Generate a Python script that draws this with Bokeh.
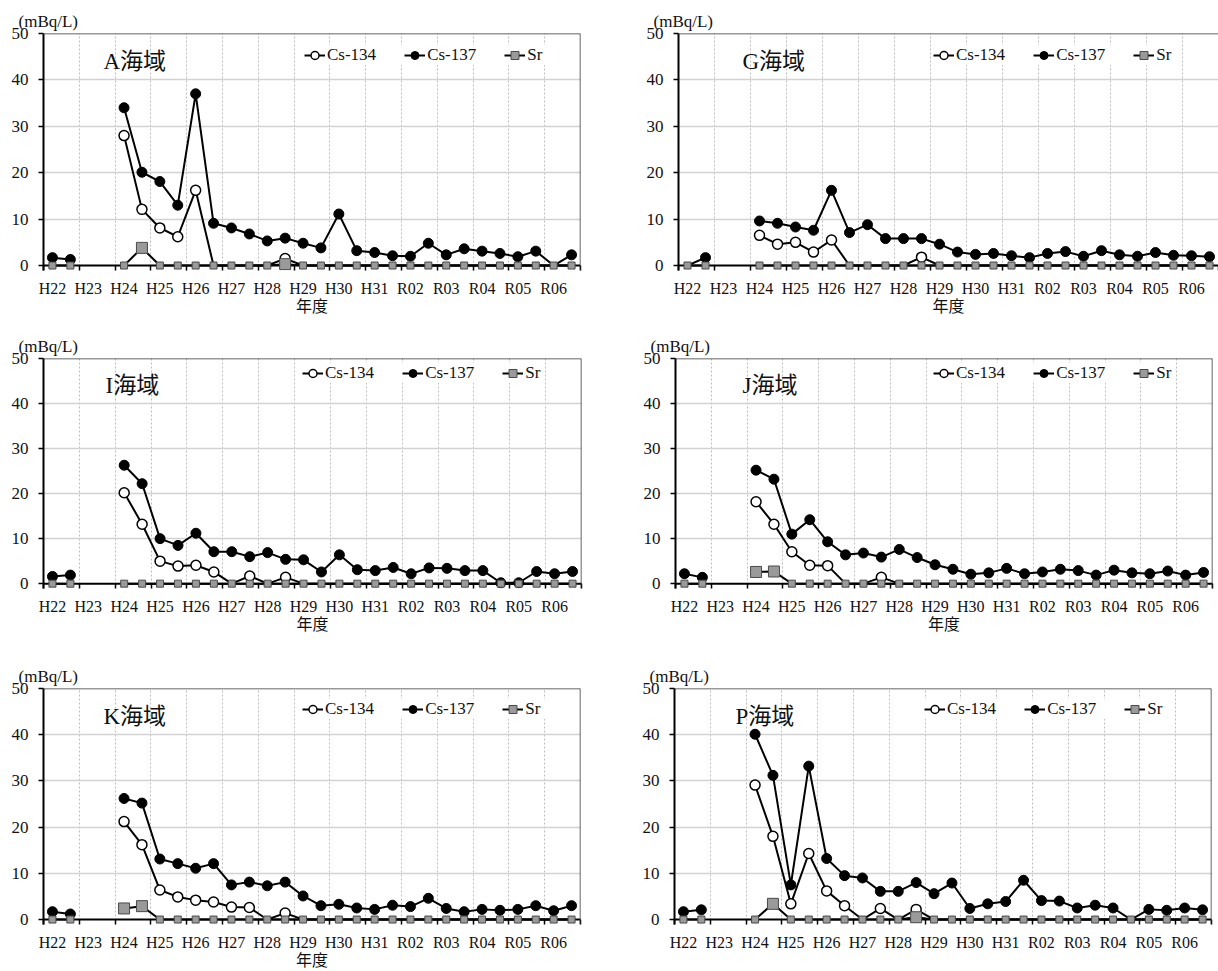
import numpy as np
from bokeh.plotting import figure
from bokeh.models import Range1d, FixedTicker, Label, Legend, LegendItem, Span
from bokeh.layouts import column, row
from bokeh.embed import file_html
from bokeh.resources import INLINE

# ---------------- data ----------------
# fiscal years; two samplings per year -> 30 slots
years = ["H22", "H23", "H24", "H25", "H26", "H27", "H28", "H29",
         "H30", "H31", "R02", "R03", "R04", "R05", "R06"]
N = None

a_cs134 = [N, N, N, N, 28.0, 12.1, 8.1, 6.2, 16.2, 0, 0, 0, 0, 1.5, 0, 0, 0, 0, 0, 0, 0, 0, 0, 0, 0, 0, 0, 0, 0, 0]
a_cs137 = [1.7, 1.3, N, N, 34.0, 20.1, 18.1, 13.0, 37.0, 9.1, 8.1, 6.8, 5.3, 5.9, 4.8, 3.8, 11.1, 3.2, 2.8, 2.1,
           2.0, 4.8, 2.3, 3.6, 3.1, 2.6, 1.9, 3.1, 0, 2.3]
a_sr = [0, 0, N, N, 0, 3.8, 0, 0, 0, 0, 0, 0, 0, 0.3, 0, 0, 0, 0, 0, 0, 0, 0, 0, 0, 0, 0, 0, 0, 0, 0]

g_cs134 = [N, N, N, N, 6.5, 4.6, 5.0, 2.9, 5.5, 0, 0, 0, 0, 1.8, 0, 0, 0, 0, 0, 0, 0, 0, 0, 0, 0, 0, 0, 0, 0, 0]
g_cs137 = [0, 1.7, N, N, 9.6, 9.1, 8.3, 7.6, 16.2, 7.1, 8.8, 5.8, 5.8, 5.8, 4.6, 2.9, 2.4, 2.6, 2.1, 1.7,
           2.6, 3.0, 2.0, 3.2, 2.3, 2.0, 2.8, 2.2, 2.1, 1.9]
g_sr = [0, 0, N, N, 0, 0, 0, 0, 0, 0, 0, 0, 0, 0, 0, 0, 0, 0, 0, 0, 0, 0, 0, 0, 0, 0, 0, 0, 0, 0]

i_cs134 = [N, N, N, N, 20.2, 13.2, 5.0, 3.9, 4.1, 2.6, 0, 1.7, 0, 1.4, 0, 0, 0, 0, 0, 0, 0, 0, 0, 0, 0, 0, 0, 0, 0, 0]
i_cs137 = [1.6, 1.9, N, N, 26.3, 22.2, 10.0, 8.5, 11.2, 7.1, 7.1, 6.0, 6.9, 5.4, 5.3, 2.6, 6.4, 3.1, 2.9, 3.6,
           2.2, 3.5, 3.4, 2.9, 2.9, 0.2, 0.2, 2.7, 2.2, 2.7]
i_sr = [0, 0, N, N, 0, 0, 0, 0, 0, 0, 0, 0, 0, 0, 0, 0, 0, 0, 0, 0, 0, 0, 0, 0, 0, 0, 0, 0, 0, 0]

j_cs134 = [N, N, N, N, 18.2, 13.2, 7.1, 4.1, 4.0, 0, 0, 1.4, 0, 0, 0, 0, 0, 0, 0, 0, 0, 0, 0, 0, 0, 0, 0, 0, 0, 0]
j_cs137 = [2.2, 1.4, N, N, 25.2, 23.2, 11.0, 14.2, 9.3, 6.4, 6.8, 5.9, 7.6, 5.8, 4.2, 3.2, 2.1, 2.4, 3.4, 2.2,
           2.6, 3.2, 2.9, 1.9, 3.0, 2.4, 2.2, 2.8, 1.9, 2.5]
j_sr = [0, 0, N, N, 2.6, 2.7, 0, 0, 0, 0, 0, 0, 0, 0, 0, 0, 0, 0, 0, 0, 0, 0, 0, 0, 0, 0, 0, 0, 0, 0]

k_cs134 = [N, N, N, N, 21.2, 16.2, 6.4, 4.9, 4.2, 3.8, 2.7, 2.6, 0, 1.4, 0, 0, 0, 0, 0, 0, 0, 0, 0, 0, 0, 0, 0, 0, 0, 0]
k_cs137 = [1.7, 1.2, N, N, 26.2, 25.2, 13.1, 12.1, 11.1, 12.1, 7.5, 8.1, 7.3, 8.1, 5.1, 3.0, 3.3, 2.5, 2.2, 3.1,
           2.8, 4.6, 2.4, 1.7, 2.2, 2.0, 2.2, 3.0, 1.9, 3.0]
k_sr = [0, 0, N, N, 2.4, 2.9, 0, 0, 0, 0, 0, 0, 0, 0, 0, 0, 0, 0, 0, 0, 0, 0, 0, 0, 0, 0, 0, 0, 0, 0]

p_cs134 = [N, N, N, N, 29.1, 18.0, 3.4, 14.3, 6.2, 3.0, 0, 2.4, 0, 2.2, 0, 0, 0, 0, 0, 0, 0, 0, 0, 0, 0, 0, 0, 0, 0, 0]
p_cs137 = [1.7, 2.1, N, N, 40.1, 31.2, 7.5, 33.2, 13.2, 9.5, 9.0, 6.1, 6.1, 8.0, 5.6, 7.9, 2.4, 3.4, 3.9, 8.5,
           4.1, 4.0, 2.5, 3.1, 2.5, 0, 2.2, 2.0, 2.5, 2.1]
p_sr = [0, 0, N, N, 0, 3.4, 0, 0, 0, 0, 0, 0, 0, 0.5, 0, 0, 0, 0, 0, 0, 0, 0, 0, 0, 0, 0, 0, 0, 0, 0]

y_ticks = [0, 10, 20, 30, 40, 50]
series_names = ["Cs-134", "Cs-137", "Sr"]
unit_label = "(mBq/L)"
x_title = "年度"

# ---------------- styling ----------------
FONT = "Liberation Serif, Noto Sans CJK JP"
ZERO_PAD = 50 * 5 / 233.0  # frame extends 5px below zero so markers at 0 are not clipped
FRAME_H = 238
INK = "#111111"


def arr(v):
    return np.array([np.nan if a is None else a for a in v], dtype=float)


def panel(name, cs134, cs137, sr, width, height, bl, bt, fw, title_dx, legend_dx,
          xlabel=True, right_edge=True):
    br = width - bl - fw
    bb = height - bt - FRAME_H
    p = figure(width=width, height=height,
               x_range=Range1d(-0.5, 29.5), y_range=Range1d(-ZERO_PAD, 50),
               output_backend="svg", toolbar_location=None,
               min_border_left=bl, min_border_right=br, min_border_top=bt, min_border_bottom=bb,
               outline_line_color=None, background_fill_color="white", border_fill_color="white")

    # unit label above the y axis
    p.title.text = unit_label
    p.title.align = "left"
    p.title.offset = -25
    p.title.standoff = 6
    p.title.vertical_align = "bottom"
    p.title.text_font = FONT
    p.title.text_font_size = "17px"
    p.title.text_font_style = "normal"
    p.title.text_color = INK

    xa = p.xaxis[0]
    xa.ticker = FixedTicker(ticks=[2 * i for i in range(len(years))],
                            minor_ticks=[2 * i - 0.5 for i in range(len(years) + 1)])
    xa.major_label_overrides = {2 * i: y for i, y in enumerate(years)}
    xa.major_tick_line_color = None
    xa.major_tick_out = 0
    xa.major_tick_in = 0
    xa.minor_tick_line_color = "black"
    xa.minor_tick_line_width = 1.5
    xa.minor_tick_out = 0
    xa.minor_tick_in = 5
    xa.major_label_standoff = 9
    xa.major_label_text_font = FONT
    xa.major_label_text_font_size = "16px"
    xa.major_label_text_color = INK
    xa.axis_line_color = None
    if xlabel:
        xa.axis_label = x_title
        xa.axis_label_standoff = -2
        xa.axis_label_text_font = FONT
        xa.axis_label_text_font_size = "16px"
        xa.axis_label_text_font_style = "normal"
        xa.axis_label_text_color = INK

    ya = p.yaxis[0]
    ya.ticker = FixedTicker(ticks=y_ticks)
    ya.major_tick_out = 5
    ya.major_tick_in = 0
    ya.major_tick_line_color = "black"
    ya.major_tick_line_width = 1.5
    ya.minor_tick_line_color = None
    ya.major_label_standoff = 10
    ya.major_label_text_font = FONT
    ya.major_label_text_font_size = "17px"
    ya.major_label_text_color = INK
    ya.axis_line_color = "black"
    ya.axis_line_width = 2

    p.xgrid.ticker = FixedTicker(ticks=[2 * i - 0.5 for i in range(1, len(years))])
    p.xgrid.grid_line_color = "#bdbdbd"
    p.xgrid.grid_line_dash = "2 2"
    p.xgrid.grid_line_width = 1
    p.ygrid.ticker = FixedTicker(ticks=y_ticks[1:-1])
    p.ygrid.grid_line_color = "#d2d2d2"
    p.ygrid.grid_line_width = 1.5

    # zero line (acts as the category axis line), frame top and right edges
    p.add_layout(Span(location=0, dimension="width", line_color="black", line_width=2, level="underlay"))
    p.add_layout(Span(location=50, dimension="width", line_color="#333333", line_width=1.5))
    if right_edge:
        p.add_layout(Span(location=29.5, dimension="height", line_color="#333333", line_width=1.5))

    x = np.arange(30)
    v134, v137, vsr = arr(cs134), arr(cs137), arr(sr)

    l1 = p.line(x, v134, line_color="black", line_width=2)
    k1 = v134 > 0
    m1 = p.scatter(x[k1], v134[k1], marker="circle", size=10, fill_color="white",
                   line_color="black", line_width=1.5)

    l2 = p.line(x, v137, line_color="black", line_width=2)
    k2 = v137 > 0
    m2 = p.scatter(x[k2], v137[k2], marker="circle", size=10, fill_color="black",
                   line_color="black", line_width=1)

    l3 = p.line(x, vsr, line_color="black", line_width=2)
    k3 = ~np.isnan(vsr)
    sizes = np.where(vsr[k3] > 0, 11, 7)
    m3 = p.scatter(x[k3], vsr[k3], marker="square", size=sizes, fill_color="#9a9a9a",
                   line_color="#4a4a4a", line_width=1)

    legend = Legend(items=[LegendItem(label=series_names[0], renderers=[l1, m1]),
                           LegendItem(label=series_names[1], renderers=[l2, m2]),
                           LegendItem(label=series_names[2], renderers=[l3, m3])],
                    orientation="horizontal", location=(legend_dx - 11, FRAME_H - 42 + 9),
                    glyph_width=21, glyph_height=20, label_height=20, label_standoff=2,
                    spacing=28, padding=11, margin=0,
                    background_fill_color="white", background_fill_alpha=1.0,
                    border_line_color=None,
                    label_text_font=FONT, label_text_font_size="17px", label_text_color=INK)
    p.add_layout(legend, "center")

    p.add_layout(Label(x=-0.5, y=44, x_offset=title_dx, text=name, text_font=FONT,
                       text_font_size="23px", text_baseline="middle", text_align="left",
                       text_color=INK))
    return p


WL, WR = 636, 582
H1, H2, H3 = 320, 330, 321

pa = panel("A海域", a_cs134, a_cs137, a_sr, WL, H1, 43, 33, 537, 60, 272)
pg = panel("G海域", g_cs134, g_cs137, g_sr, WR, H1, 42, 32, 540, 64, 266, right_edge=False)
pi = panel("I海域", i_cs134, i_cs137, i_sr, WL, H2, 43, 30, 538, 62, 270)
pj = panel("J海域", j_cs134, j_cs137, j_sr, WR, H2, 39, 38, 537, 67, 269)
pk = panel("K海域", k_cs134, k_cs137, k_sr, WL, H3, 43, 38, 537, 60, 270)
pp = panel("P海域", p_cs134, p_cs137, p_sr, WR, H3, 38, 37, 537, 61, 261, xlabel=False)

layout = column(row(pa, pg, spacing=0), row(pi, pj, spacing=0), row(pk, pp, spacing=0), spacing=0)

open("out.html", "w").write(file_html(layout, INLINE))
